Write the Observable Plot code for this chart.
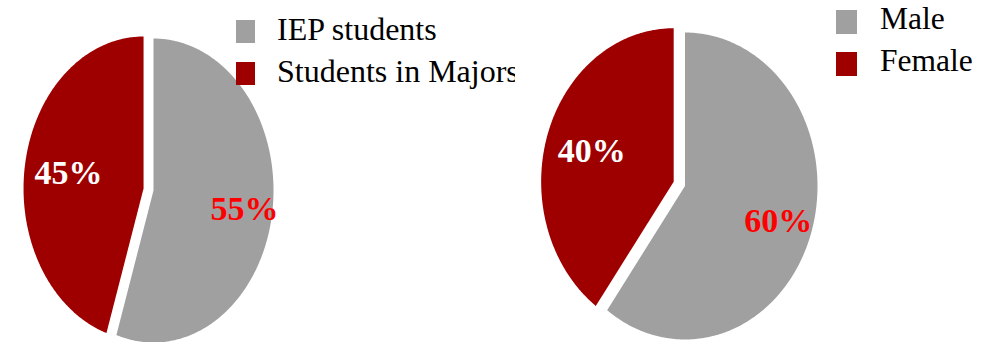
<!DOCTYPE html>
<html>
<head>
<meta charset="utf-8">
<script src="https://cdn.jsdelivr.net/npm/d3@7"></script>
<script src="https://cdn.jsdelivr.net/npm/@observablehq/plot@0.6"></script>
<style>
  html, body { margin: 0; padding: 0; background: #fff; }
  #stage { position: relative; width: 991px; height: 342px; overflow: hidden; }
  .layer { position: absolute; left: 0; top: 0; }
  .legend { position: absolute; overflow: hidden; font-family: "Liberation Serif", "Times New Roman", Times, Tinos, "DejaVu Serif", serif; color: #000; white-space: nowrap; }
  .legend .sw { position: absolute; }
  .legend .lb { position: absolute; line-height: 42px; }
</style>
</head>
<body>
<div id="stage"></div>
<script>
// ---- data ----
const leftCategories = ["IEP students", "Students in Majors"];
const leftValues = [55, 45];
const rightCategories = ["Male", "Female"];
const rightValues = [60, 40];
const sliceColors = ["#a0a0a0", "#9e0000"];
const labelColors = ["#ff0000", "#ffffff"];
const leftLabelRadius = [0.767, 0.633];
const rightLabelRadius = [0.74, 0.65];
const leftExplode = [0, 0.084];
const rightExplode = [0, 0.09];

// ---- layout ----
const W = 991, H = 342;
const serif = "'Liberation Serif', 'Times New Roman', Times, Tinos, 'DejaVu Serif', serif";
const leftLayout = {cx: 153, cy: 190, rx: 120, ry: 152};
const rightLayout = {cx: 684.5, cy: 185.5, rx: 132.5, ry: 153.5};

function pieGeometry(categories, values, labelRadius, explode) {
  const total = d3.sum(values);
  const arcs = d3.pie().sort(null).startAngle(0).endAngle(2 * Math.PI)(values);
  const points = [];
  const labels = [];
  arcs.forEach((a, i) => {
    const mid = (a.startAngle + a.endAngle) / 2;
    const ox = explode[i] * Math.sin(mid), oy = -explode[i] * Math.cos(mid);
    points.push({slice: i, x: ox, y: oy});
    const n = 240;
    for (let k = 0; k <= n; k++) {
      const t = a.startAngle + (a.endAngle - a.startAngle) * k / n;
      points.push({slice: i, x: ox + Math.sin(t), y: oy - Math.cos(t)});
    }
    labels.push({
      slice: i,
      category: categories[i],
      x: ox + labelRadius[i] * Math.sin(mid),
      y: oy - labelRadius[i] * Math.cos(mid),
      text: Math.round(100 * values[i] / total) + "%",
      color: labelColors[i]
    });
  });
  return {points, labels};
}

function piePlot(geom, L) {
  const marks = sliceColors.map((c, i) =>
    Plot.line(geom.points.filter(d => d.slice === i), {x: "x", y: "y", fill: c, stroke: "none"})
  );
  marks.push(Plot.text(geom.labels, {
    x: "x", y: "y", text: "text", fill: "color",
    fontSize: 34, fontWeight: "bold",
    fontFamily: serif
  }));
  const svg = Plot.plot({
    width: W, height: H,
    margin: 0,
    x: {domain: [-L.cx / L.rx, (W - L.cx) / L.rx], range: [0, W], axis: null},
    y: {domain: [-L.cy / L.ry, (H - L.cy) / L.ry], range: [0, H], axis: null},
    color: {type: "identity"},
    style: "background: transparent; overflow: visible; max-width: none;",
    marks
  });
  svg.classList.add("layer");
  return svg;
}

function legend(categories, L) {
  const box = document.createElement("div");
  box.className = "legend";
  Object.assign(box.style, {left: L.x + "px", top: "0px", width: L.w + "px", height: "120px", fontSize: L.fontSize + "px"});
  categories.forEach((c, i) => {
    const sw = document.createElement("div");
    sw.className = "sw";
    Object.assign(sw.style, {left: "0px", top: (L.swTop + i * L.step) + "px", width: L.swW + "px", height: L.swH + "px", background: sliceColors[i]});
    const lb = document.createElement("div");
    lb.className = "lb";
    Object.assign(lb.style, {left: L.textX + "px", top: (L.textTop + i * L.step) + "px"});
    lb.textContent = c;
    box.appendChild(sw);
    box.appendChild(lb);
  });
  return box;
}

const stage = document.getElementById("stage");
stage.appendChild(piePlot(pieGeometry(leftCategories, leftValues, leftLabelRadius, leftExplode), leftLayout));
stage.appendChild(piePlot(pieGeometry(rightCategories, rightValues, rightLabelRadius, rightExplode), rightLayout));
stage.appendChild(legend(leftCategories, {x: 236, w: 279, fontSize: 32, swTop: 20, swW: 19, swH: 23, step: 42, textX: 41, textTop: 7.5}));
stage.appendChild(legend(rightCategories, {x: 836, w: 155, fontSize: 31.5, swTop: 10, swW: 21, swH: 24, step: 42, textX: 44, textTop: -1.6}));
</script>
</body>
</html>
